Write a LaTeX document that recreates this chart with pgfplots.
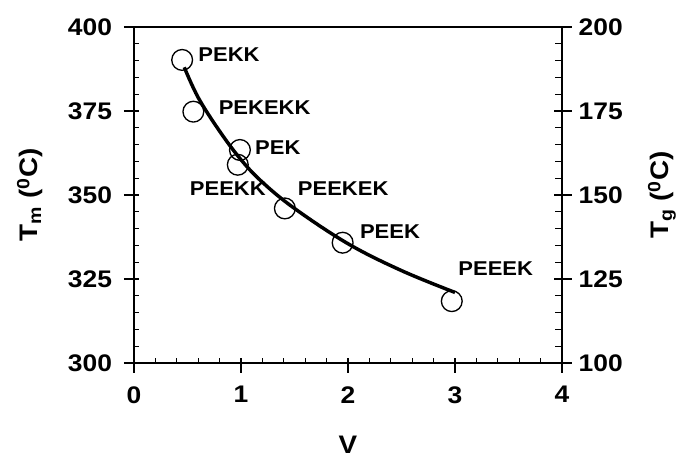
\documentclass[border=0pt]{standalone}
\usepackage{pgfplots}
\pgfplotsset{compat=1.18}
\usepackage{fontspec}
\setmainfont[FakeStretch=1.1]{Liberation Sans}
\newcommand\tickfont{\bfseries\fontsize{18}{20}\selectfont}
\newcommand\labfont{\bfseries\fontsize{19}{22}\selectfont}
\newcommand\annfont{\bfseries\fontsize{15}{17}\selectfont}
\pgfplotsset{
  base/.style={scale only axis, width=321pt, height=252pt,
    xmin=0, xmax=4, ymin=300, ymax=400,
    xtick={0,1,2,3,4}, ytick={300,325,350,375,400},
    /pgf/number format/assume math mode=true,
    tick label style={font=\tickfont},
    axis line style={line width=1.1pt},
    every tick/.style={line width=0.9pt, black},
    minor tick style={line width=0.8pt, black}},
}
\begin{document}
\begin{tikzpicture}
\useasboundingbox (-100.5pt,-77.25pt) rectangle (406.5pt,272.25pt);
% main axis
\begin{axis}[base,
  tick align=inside, major tick length=3.75pt, minor tick length=3.75pt,
  minor x tick num=4, minor y tick num=4,
  xtick pos=left, ytick pos=left,
  yticklabel style={xshift=-13pt},
  xticklabel style={yshift=-14pt},
  xlabel={V}, ylabel={T\textsubscript{m} (\textsuperscript{0}C)},
  every axis x label/.style={at={(axis description cs:0.5,0)}, yshift=-61.5pt, anchor=center, font=\labfont},
  every axis y label/.style={at={(axis description cs:0,0.5)}, xshift=-78pt, rotate=90, anchor=center, font=\labfont},
  clip=false]
\addplot[black, line width=2.6pt, smooth, tension=0.6] coordinates {
  (0.47,388) (0.6,379) (0.8,369) (1.0,360.5) (1.2,353.8) (1.5,346)
  (2.0,335.5) (2.5,327.5) (3.0,321)};
\addplot[only marks, mark=o, mark size=7.8pt, black, mark options={line width=1pt}] coordinates {
  (0.45,390.2) (0.555,374.8) (0.99,363.4) (0.97,359) (1.41,346) (1.95,335.8) (2.97,318.4)};
\begin{scope}[every node/.style={font=\annfont, anchor=west, inner sep=0pt}]
\node at (axis cs:0.60,391.7) {PEKK};
\node at (axis cs:0.79,376) {PEKEKK};
\node at (axis cs:1.13,364) {PEK};
\node at (axis cs:0.52,352) {PEEKK};
\node at (axis cs:1.53,352) {PEEKEK};
\node at (axis cs:2.11,339) {PEEK};
\node at (axis cs:3.03,328) {PEEEK};
\end{scope}
\end{axis}
% outward major ticks
\begin{axis}[base, axis line style={draw=none},
  xticklabels={}, yticklabels={},
  tick align=outside, major tick length=7.5pt,
  xtick pos=left, ytick pos=both]
\end{axis}
% right axis
\begin{axis}[base, ymin=100, ymax=200, ytick={100,125,150,175,200},
  axis x line=none, axis y line*=right, ytick pos=right,
  tick align=inside, major tick length=6pt, minor tick length=5pt,
  minor y tick num=4,
  yticklabel style={xshift=9pt},
  ylabel={T\textsubscript{g} (\textsuperscript{0}C)},
  every axis y label/.style={at={(axis description cs:1,0.5)}, xshift=75pt, rotate=90, anchor=center, font=\labfont}]
\end{axis}
\end{tikzpicture}
\end{document}
